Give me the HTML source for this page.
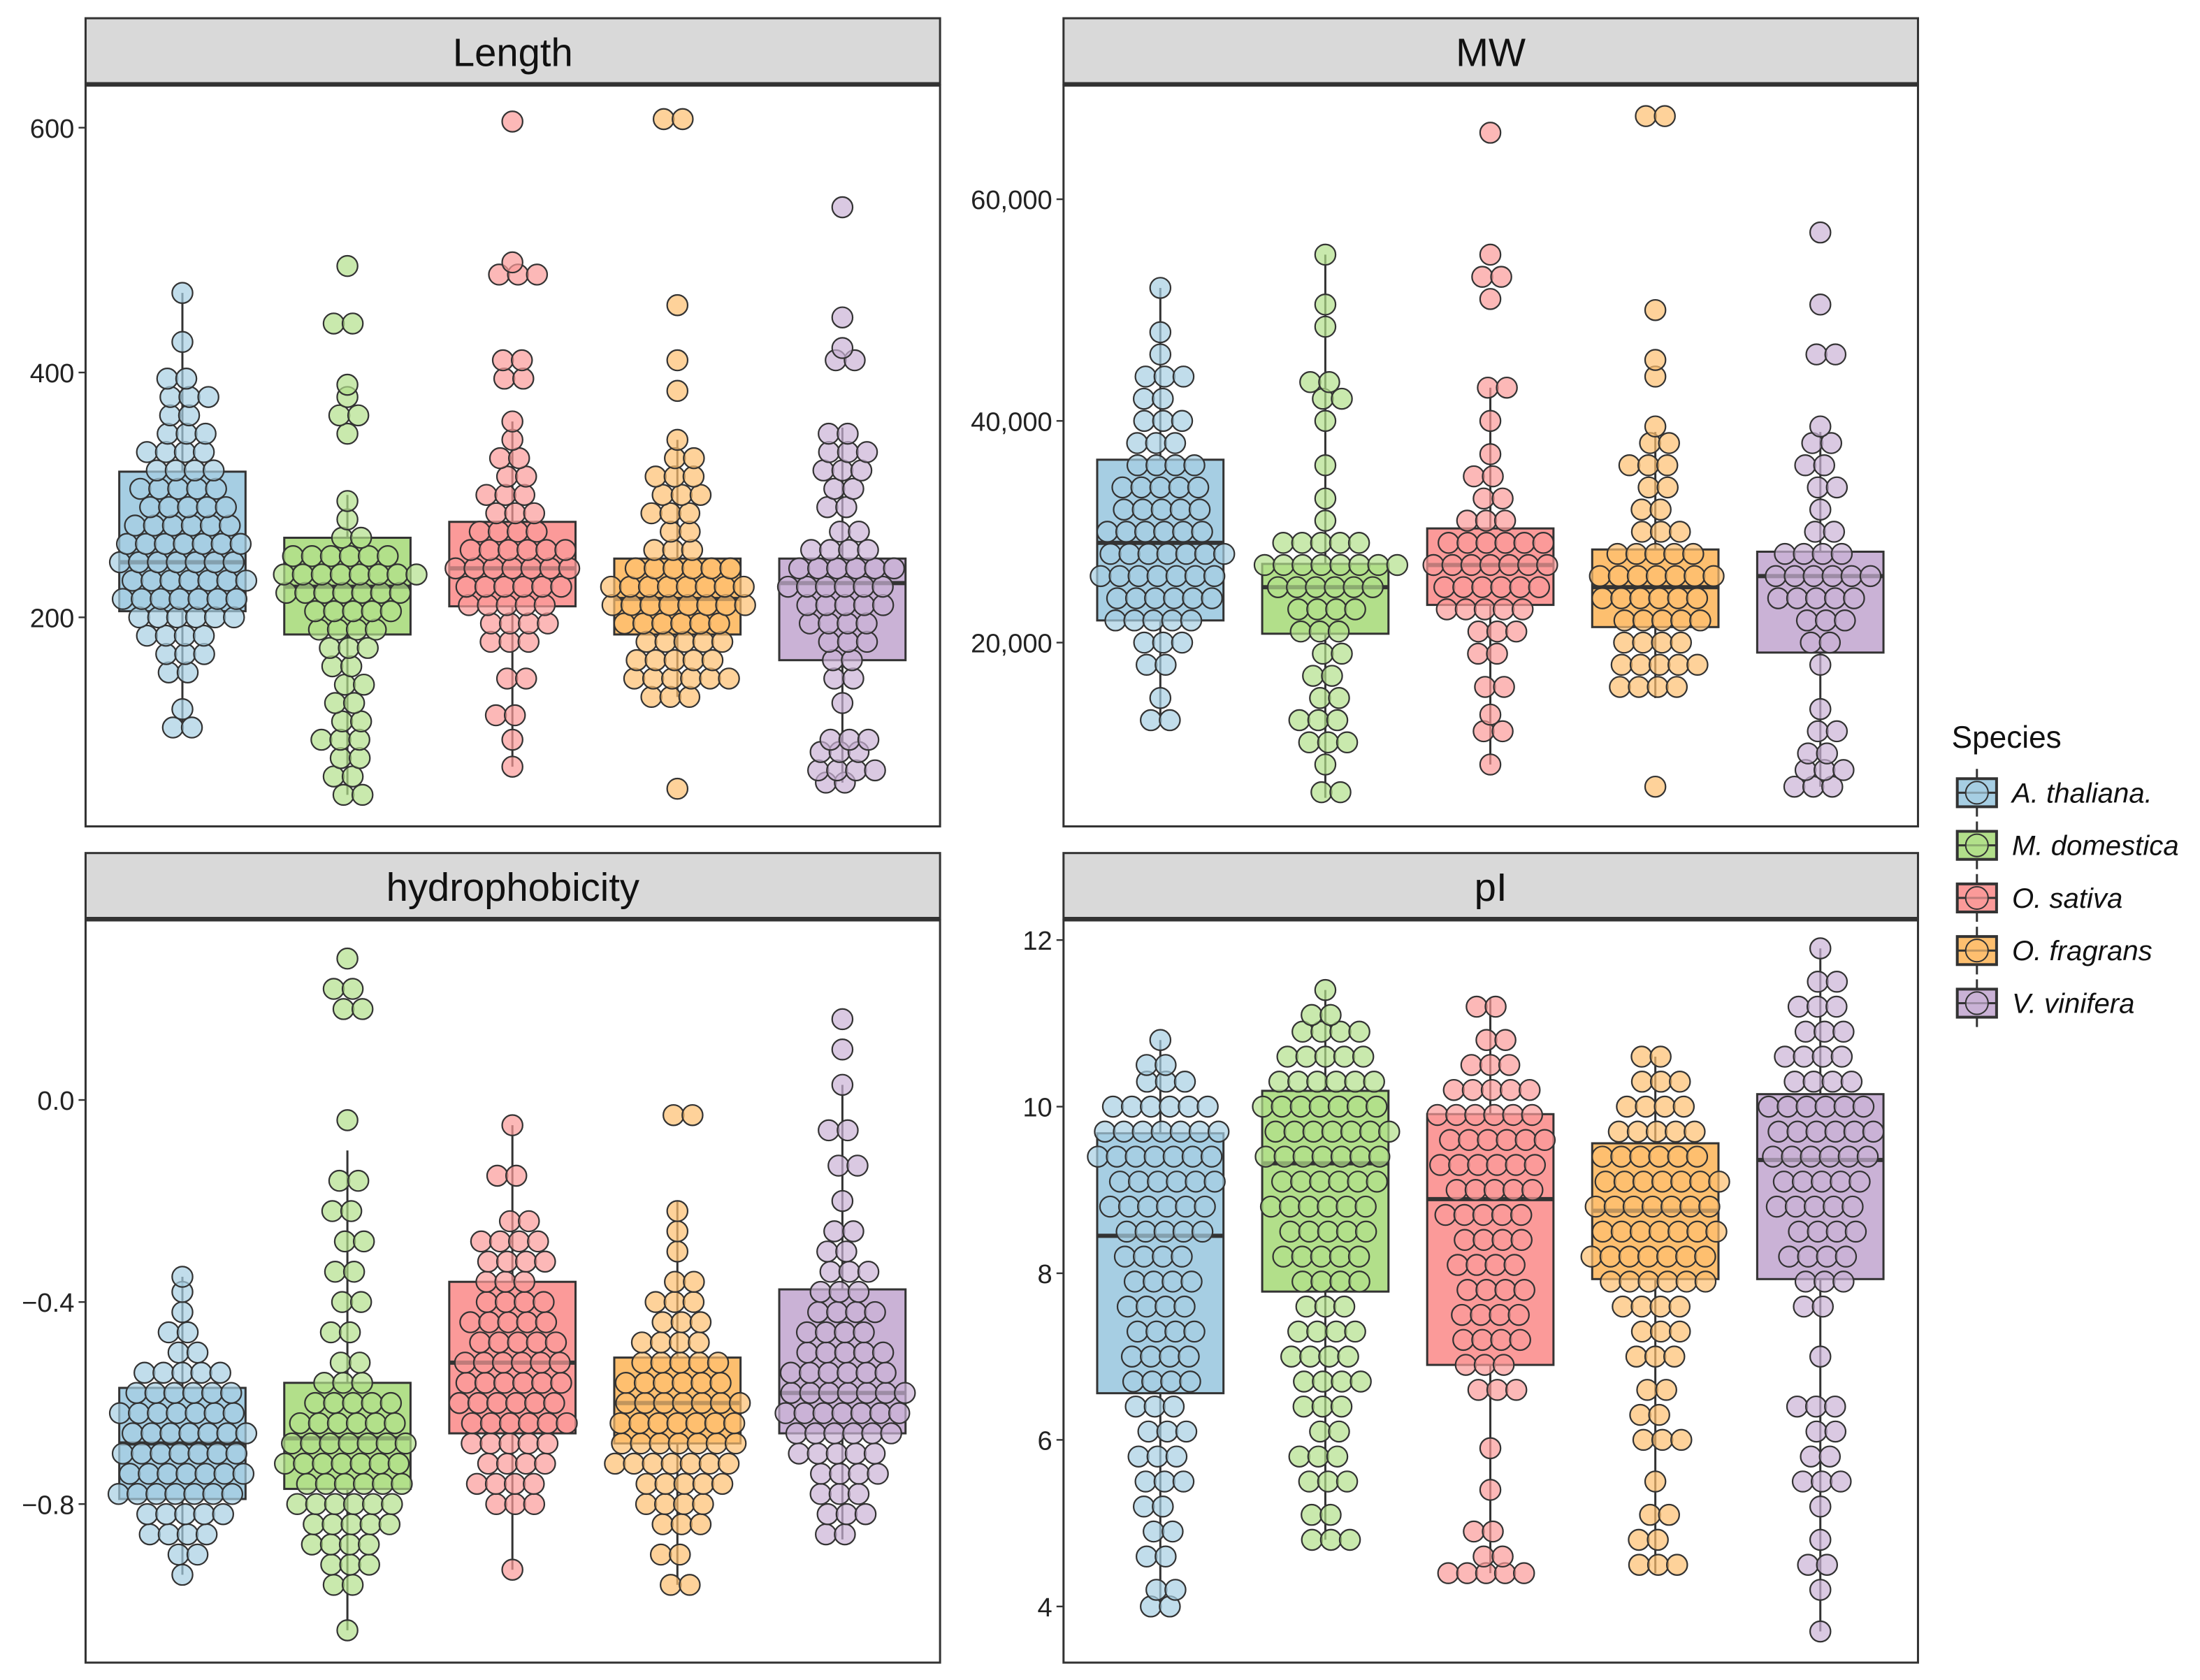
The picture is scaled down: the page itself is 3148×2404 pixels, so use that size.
<!DOCTYPE html>
<html><head><meta charset="utf-8"><style>
html,body{margin:0;padding:0;background:#fff;}
svg{display:block;font-family:"Liberation Sans",Arial,sans-serif;}
</style></head><body>
<svg id="c" width="3148" height="2404" viewBox="0 0 1568 1197.4" preserveAspectRatio="none" xmlns="http://www.w3.org/2000/svg"></svg>
<script>
const species = ["A. thaliana.","M. domestica","O. sativa","O. fragrans","V. vinifera"];
const fills = ["#a6cee3","#b2df8a","#fb9a99","#fdbf6f","#cab2d6"];
// Length
const lenTicks=[200,400,600];
const lenBoxes=[[110,205,245,319,465],[55,186,225,265,300],[78,209,240,278,360],[135,186,215,248,345],[65,165,228,248,355]];
const lenBins=[
[[110,2],[125,1],[155,2],[170,3],[185,4],[200,6],[215,7],[230,7],[245,7],[260,7],[275,6],[290,5],[305,5],[320,4],[335,4],[350,3],[365,2],[380,3],[395,2],[425,1],[465,1]],
[[55,2],[70,2],[85,2],[100,3],[115,2],[130,2],[145,2],[160,2],[175,3],[190,4],[205,5],[220,7],[235,8],[250,6],[265,2],[280,1],[295,1],[350,1],[365,2],[380,1],[390,1],[440,2],[487,1]],
[[78,1],[100,1],[120,2],[150,2],[180,3],[195,4],[210,5],[225,6],[240,7],[255,6],[270,4],[285,3],[300,3],[315,2],[330,2],[345,1],[360,1],[395,2],[410,2],[480,3],[490,1],[605,1]],
[[60,1],[135,3],[150,6],[165,5],[180,5],[195,6],[210,8],[225,8],[240,6],[255,3],[270,2],[285,3],[300,3],[315,3],[330,2],[345,1],[385,1],[410,1],[455,1],[607,2]],
[[65,2],[75,4],[90,3],[100,3],[130,1],[150,2],[165,2],[180,3],[195,4],[210,5],[225,6],[240,6],[255,4],[270,2],[290,2],[305,2],[320,3],[335,3],[350,2],[410,2],[420,1],[445,1],[535,1]]];
// MW (thousands)
const mwTicks=[20,40,60];
const mwBoxes=[[13,22,29,36.5,52],[6,20.8,25,27.1,55],[9,23.4,27,30.3,43],[15,21.4,25,28.4,39],[7,19.1,26,28.2,39]];
const mwBins=[
[[13,2],[15,1],[18,2],[20,3],[22,5],[24,6],[26,7],[28,7],[30,6],[32,5],[34,5],[36,4],[38,3],[40,3],[42,2],[44,3],[46,1],[48,1],[52,1]],
[[6.5,2],[9,1],[11,3],[13,3],[15,2],[17,2],[19,2],[21,3],[23,4],[25,6],[27,8],[29,5],[31,1],[33,1],[36,1],[40,1],[42,2],[43.5,2],[48.5,1],[50.5,1],[55,1]],
[[9,1],[12,2],[13.5,1],[16,2],[19,2],[21,3],[23,5],[25,6],[27,7],[29,6],[31,3],[33,2],[35,2],[37,1],[40,1],[43,2],[51,1],[53,2],[55,1],[66,1]],
[[7,1],[16,4],[18,5],[20,4],[22,5],[24,6],[26,7],[28,5],[30,3],[32,2],[34,2],[36,3],[38,2],[39.5,1],[44,1],[45.5,1],[50,1],[67.5,2]],
[[7,3],[8.5,3],[10,2],[12,2],[14,1],[18,1],[20,2],[22,3],[24,5],[26,6],[28,4],[30,2],[32,1],[34,2],[36,2],[38,2],[39.5,1],[46,2],[50.5,1],[57,1]]];
// hydrophobicity
const hyTicks=[-0.8,-0.4,0.0];
const hyBoxes=[[-0.94,-0.79,-0.68,-0.57,-0.35],[-1.05,-0.77,-0.67,-0.56,-0.1],[-0.93,-0.66,-0.52,-0.36,-0.05],[-0.96,-0.68,-0.6,-0.51,-0.2],[-0.87,-0.66,-0.58,-0.375,0.03]];
const hyBins=[
[[-0.94,1],[-0.9,2],[-0.86,4],[-0.82,5],[-0.78,7],[-0.74,7],[-0.7,7],[-0.66,7],[-0.62,7],[-0.58,6],[-0.54,5],[-0.5,2],[-0.46,2],[-0.42,1],[-0.38,1],[-0.35,1]],
[[-1.05,1],[-0.96,2],[-0.92,3],[-0.88,4],[-0.84,5],[-0.8,6],[-0.76,6],[-0.72,7],[-0.68,7],[-0.64,6],[-0.6,5],[-0.56,3],[-0.52,2],[-0.46,2],[-0.4,2],[-0.34,2],[-0.28,2],[-0.22,2],[-0.16,2],[-0.04,1],[0.18,2],[0.22,2],[0.28,1]],
[[-0.93,1],[-0.8,3],[-0.76,4],[-0.72,4],[-0.68,5],[-0.64,6],[-0.6,6],[-0.56,6],[-0.52,6],[-0.48,5],[-0.44,5],[-0.4,4],[-0.36,3],[-0.32,4],[-0.28,4],[-0.24,2],[-0.15,2],[-0.05,1]],
[[-0.96,2],[-0.9,2],[-0.84,3],[-0.8,4],[-0.76,5],[-0.72,7],[-0.68,7],[-0.64,7],[-0.6,7],[-0.56,6],[-0.52,5],[-0.48,4],[-0.44,3],[-0.4,3],[-0.36,2],[-0.3,1],[-0.26,1],[-0.22,1],[-0.03,2]],
[[-0.86,2],[-0.82,3],[-0.78,3],[-0.74,4],[-0.7,5],[-0.66,6],[-0.62,7],[-0.58,7],[-0.54,6],[-0.5,5],[-0.46,4],[-0.42,4],[-0.38,3],[-0.34,3],[-0.3,2],[-0.26,2],[-0.2,1],[-0.13,2],[-0.06,2],[0.03,1],[0.1,1],[0.16,1]]];
// pI
const piTicks=[4,6,8,10,12];
const piBoxes=[[4.0,6.56,8.45,9.68,10.8],[4.8,7.78,9.32,10.19,11.4],[4.4,6.9,8.89,9.91,11.3],[4.4,7.93,8.75,9.56,10.6],[3.7,7.93,9.36,10.15,11.9]];
const piBins=[
[[4.0,2],[4.2,2],[4.6,2],[4.9,2],[5.2,2],[5.5,3],[5.8,3],[6.1,3],[6.4,3],[6.7,4],[7.0,4],[7.3,4],[7.6,4],[7.9,4],[8.2,4],[8.5,5],[8.8,6],[9.1,6],[9.4,7],[9.7,7],[10.0,6],[10.3,3],[10.5,2],[10.8,1]],
[[4.8,3],[5.1,2],[5.5,3],[5.8,3],[6.1,2],[6.4,3],[6.7,4],[7.0,4],[7.3,4],[7.6,3],[7.9,4],[8.2,5],[8.5,5],[8.8,6],[9.1,6],[9.4,7],[9.7,7],[10.0,7],[10.3,6],[10.6,5],[10.9,4],[11.1,2],[11.4,1]],
[[4.4,5],[4.6,2],[4.9,2],[5.4,1],[5.9,1],[6.6,3],[6.9,3],[7.2,4],[7.5,4],[7.8,4],[8.1,4],[8.4,4],[8.7,5],[9.0,5],[9.3,6],[9.6,6],[9.9,6],[10.2,5],[10.5,3],[10.8,2],[11.2,2]],
[[4.5,3],[4.8,2],[5.1,2],[5.5,1],[6.0,3],[6.3,2],[6.6,2],[7.0,3],[7.3,3],[7.6,4],[7.9,6],[8.2,7],[8.5,7],[8.8,7],[9.1,7],[9.4,6],[9.7,5],[10.0,4],[10.3,3],[10.6,2]],
[[3.7,1],[4.2,1],[4.5,2],[4.8,1],[5.2,1],[5.5,3],[5.8,2],[6.1,2],[6.4,3],[7.0,1],[7.6,2],[7.9,3],[8.2,4],[8.5,4],[8.8,5],[9.1,5],[9.4,6],[9.7,6],[10.0,6],[10.3,4],[10.6,4],[10.9,3],[11.2,3],[11.5,2],[11.9,1]]];

const NS="http://www.w3.org/2000/svg";
const svg=document.getElementById('c');
function mk(tag,attrs,parent){const e=document.createElementNS(NS,tag);for(const k in attrs)e.setAttribute(k,attrs[k]);(parent||svg).appendChild(e);return e;}

const panels=[
 {title:"Length",x0:61,x1:670,st:13,top:61,bot:589,boxes:lenBoxes,bins:lenBins,ticks:lenTicks,fmt:v=>String(v),v1:600,y1:91,v2:200,y2:440},
 {title:"MW",x0:758,x1:1367,st:13,top:61,bot:589,boxes:mwBoxes,bins:mwBins,ticks:mwTicks,fmt:v=>(v*1000).toLocaleString('en-US'),v1:60,y1:142,v2:20,y2:458},
 {title:"hydrophobicity",x0:61,x1:670,st:608,top:656,bot:1185,boxes:hyBoxes,bins:hyBins,ticks:hyTicks,fmt:v=>(v<0?"\u2212":"")+Math.abs(v).toFixed(1),v1:0,y1:784,v2:-0.8,y2:1072},
 {title:"pI",x0:758,x1:1367,st:608,top:656,bot:1185,boxes:piBoxes,bins:piBins,ticks:piTicks,fmt:v=>String(v),v1:12,y1:670,v2:4,y2:1145}
];
const jit=[0,4,-3,2,-5,3,-2,5,-4,1];
panels.forEach(p=>{
  const slug=p.title.toLowerCase();
  const g=mk('g',{});
  
  
  const y=v=>p.y1+(v-p.v1)*(p.y2-p.y1)/(p.v2-p.v1);
  const x=i=>p.x0+69+i*117.6;
  const strip=mk('rect',{x:p.x0,y:p.st,width:p.x1-p.x0,height:p.top-p.st-1,fill:'#d9d9d9',stroke:'#333','stroke-width':1.5},g);
  
  
  const t=mk('text',{x:(p.x0+p.x1)/2,y:p.st+34,'text-anchor':'middle','font-size':28,fill:'#111'},g);
  t.textContent=p.title;
  
  
  mk('line',{x1:p.x0,x2:p.x1,y1:p.top-1,y2:p.top-1,stroke:'#333','stroke-width':3},g);
  const frame=mk('rect',{x:p.x0,y:p.top,width:p.x1-p.x0,height:p.bot-p.top,fill:'none',stroke:'#333','stroke-width':1.5},g);
  
  
  p.ticks.forEach(v=>{
    mk('line',{x1:p.x0-5,x2:p.x0,y1:y(v),y2:y(v),stroke:'#333','stroke-width':1.2},g);
    const tl=mk('text',{x:p.x0-8,y:y(v)+7,'text-anchor':'end','font-size':19,fill:'#222'},g);
    tl.textContent=p.fmt(v);
    
    
  });
  p.boxes.forEach((b,i)=>{
    const cx=x(i),hw=45;
    const wl=mk('line',{x1:cx,x2:cx,y1:y(b[0]),y2:y(b[4]),stroke:'#333','stroke-width':1.5},g);
    
    
    const r=mk('rect',{x:cx-hw,y:y(b[3]),width:2*hw,height:y(b[1])-y(b[3]),fill:fills[i],stroke:'#333','stroke-width':1.5},g);
    
    
    mk('line',{x1:cx-hw,x2:cx+hw,y1:y(b[2]),y2:y(b[2]),stroke:'#333','stroke-width':3},g);
  });
  p.bins.forEach((bins,i)=>{
    const cx=x(i);
    bins.forEach(([v,n],k)=>{
      const off=jit[(k+i)%jit.length];
      for(let j=0;j<n;j++){
        const dx=(j-(n-1)/2)*13.5+(n>1?off:0);
        const c=mk('circle',{cx:cx+dx,cy:y(v),r:7.3,fill:fills[i],'fill-opacity':0.7,stroke:'#333','stroke-width':1.1},g);
        
        
      }
    });
  });
});
// legend
const lg=mk('g',{});


const lt=mk('text',{x:1391,y:533,'font-size':22,fill:'#111'},lg);
lt.textContent="Species";


species.forEach((s,i)=>{
  const cy=565+i*37.5;
  const e=mk('g',{},lg);
  
  
  mk('line',{x1:1409,x2:1409,y1:cy-17,y2:cy+17,stroke:'#333','stroke-width':1.5},e);
  mk('rect',{x:1395,y:cy-10,width:28,height:20,fill:fills[i],stroke:'#333','stroke-width':2},e);
  mk('line',{x1:1395,x2:1423,y1:cy,y2:cy,stroke:'#333','stroke-width':1.5},e);
  mk('circle',{cx:1409,cy:cy,r:8,fill:fills[i],'fill-opacity':0.7,stroke:'#333','stroke-width':1},e);
  const tx=mk('text',{x:1434,y:cy+7,'font-size':20,'font-style':'italic',fill:'#111'},e);
  tx.textContent=s;
});
</script>
</body></html>
